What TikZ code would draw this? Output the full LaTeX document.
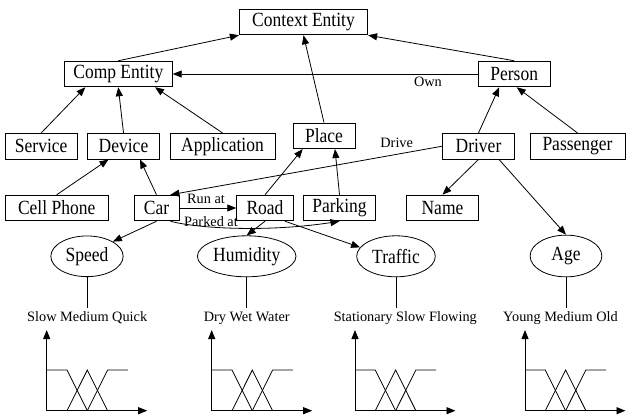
\documentclass[tikz,border=0pt]{standalone}
\usepackage{fontspec}
\usepackage{graphicx}
\setmainfont{Liberation Serif}
\usetikzlibrary{arrows.meta,shapes.geometric}
\newcommand\vst[1]{\scalebox{1}[1.15]{#1}}
\begin{document}
\begin{tikzpicture}[x=1pt,y=-1pt, line width=0.8pt,
  >={Triangle[length=9pt,width=7pt]},
  box/.style={draw, rectangle, minimum height=25.7pt, inner sep=0pt, font=\fontsize{17.5}{20}\selectfont},
  oval/.style={draw, ellipse, inner sep=0pt, font=\fontsize{17.5}{20}\selectfont},
  lbl/.style={font=\fontsize{14.3}{16}\selectfont, inner sep=1pt},
  fz/.style={font=\fontsize{14.3}{16}\selectfont, text height=10pt, text depth=3pt, inner sep=3pt},
]
\useasboundingbox (0,0) rectangle (630,417);

% boxes
\node[box, minimum width=128.4pt] (ctx) at (303.5,22) {\vst{Context Entity}};
\node[box, minimum width=108pt] (comp) at (118.3,74) {\vst{Comp Entity}};
\node[box, minimum width=71.7pt] (person) at (514.2,74) {\vst{Person}};
\node[box, minimum width=72.3pt] (service) at (41.2,146.2) {\vst{Service}};
\node[box, minimum width=72pt] (device) at (123.5,146.2) {\vst{Device}};
\node[box, minimum width=105pt] (app) at (222.5,146.2) {\vst{Application}};
\node[box, minimum width=62pt] (place) at (324,135.8) {\vst{Place}};
\node[box, minimum width=71.6pt] (driver) at (478.5,146.2) {\vst{Driver}};
\node[box, minimum width=95pt] (passenger) at (577.5,146.2) {\vst{Passenger}};
\node[box, minimum width=103.3pt] (cell) at (56.7,208) {\vst{Cell Phone}};
\node[box, minimum width=45pt] (car) at (156.5,208) {\vst{Car}};
\node[box, minimum width=56.6pt] (road) at (265,208) {\vst{Road}};
\node[box, minimum width=72.4pt] (parking) at (339.5,208) {\vst{Parking}};
\node[box, minimum width=71.6pt] (name) at (442.5,208) {\vst{Name}};

% ellipses
\node[oval, minimum width=72.3pt, minimum height=40.7pt] (speed) at (87,256.3) {\vst{Speed}};
\node[oval, minimum width=98.6pt, minimum height=41pt] (humidity) at (246.7,256.3) {\vst{Humidity}};
\node[oval, minimum width=78.6pt, minimum height=41pt] (traffic) at (396,256.3) {\vst{Traffic}};
\node[oval, minimum width=71.7pt, minimum height=41.7pt] (age) at (566,256) {\vst{Age}};

% fuzzy labels
\node[fz, anchor=base] (fs) at (87.2,321.7) {Slow Medium Quick};
\node[fz, anchor=base] (fh) at (246.7,321.7) {Dry Wet Water};
\node[fz, anchor=base] (ft) at (405.3,321.7) {Stationary Slow Flowing};
\node[fz, anchor=base] (fa) at (560.5,321.7) {Young Medium Old};

% edge labels
\node[lbl] (own) at (428,82) {Own};
\node[lbl] (drive) at (396.7,142.7) {Drive};
\node[lbl] (runat) at (206,199) {Run at};
\node[lbl] (parked) at (211,221.7) {Parked at};

% connectors
\draw[->] (comp.north) -- (ctx.south west);
\draw[->] (person.north) -- (ctx.south east);
\draw[->] (place.north) -- (ctx.south);
\draw[->] (person.west) -- (comp.east);
\draw[->] (service.north) -- ([xshift=-33pt]comp.south);
\draw[->] (device.north) -- (comp.south);
\draw[->] (app.north) -- ([xshift=36.7pt]comp.south);
\draw[->] (driver.north) -- ([xshift=-15pt]person.south);
\draw[->] (passenger.north) -- ([xshift=2.5pt]person.south);
\draw[->] (cell.north) -- ([xshift=-15pt]device.south);
\draw[->] (car.north) -- ([xshift=16.5pt]device.south);
\draw[->] (driver.west) -- ([xshift=-9pt]car.north east);
\draw[->] (car.east) -- (road.west);
\draw[->] ([xshift=-9pt]car.south east) .. controls (200,229) and (270,232) .. (parking.south);
\draw[->] (road.north) -- ([xshift=-21.3pt]place.south);
\draw[->] (parking.north) -- ([xshift=11pt]place.south);
\draw[->] (driver.south) -- (name.north);
\draw[->] ([xshift=20.5pt]driver.south) -- (age.north);
\draw[->] (car.south) -- (speed.north east);
\draw[->] (road.south) -- (humidity.north);
\draw[->] ([xshift=20pt]road.south) -- (traffic.166);

% ellipse to labels
\draw (speed.south) -- (speed.south |- fs.north);
\draw (humidity.south) -- (humidity.south |- fh.north);
\draw (traffic.south) -- (traffic.south |- ft.north);
\draw (age.south) -- (age.south |- fa.north);

% membership charts
\foreach \x in {46.7,211.7,355,525} {
  \draw[->] (\x,410.7) -- (\x,330);
  \draw[->] (\x,410.7) -- (\x+100.5,410.7);
  \draw (\x,370) -- (\x+20.3,370) -- (\x+40.6,410.7);
  \draw (\x+20.3,410.7) -- (\x+40.6,370) -- (\x+60.9,410.7);
  \draw (\x+40.6,410.7) -- (\x+60.9,370) -- (\x+81.2,370);
}
\end{tikzpicture}
\end{document}
